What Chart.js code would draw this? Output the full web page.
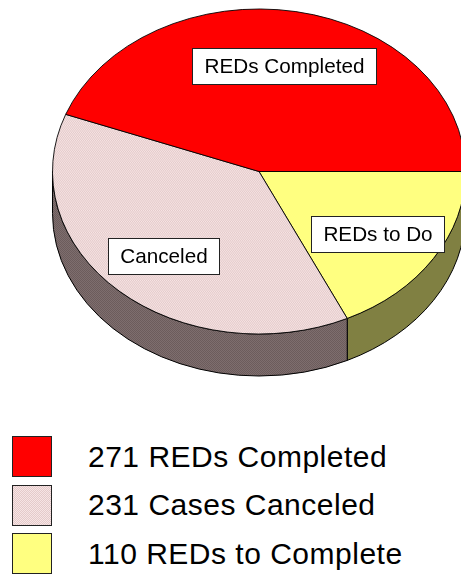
<!DOCTYPE html>
<html>
<head>
<meta charset="utf-8">
<script src="https://cdn.jsdelivr.net/npm/chart.js@4.4.0/dist/chart.umd.min.js"></script>
<style>
  body { margin: 0; width: 461px; height: 574px; overflow: hidden; background: #fff;
         font-family: Arial, "Liberation Sans", sans-serif; }
  #wrap { position: absolute; left: 0; top: 0; width: 518px; height: 414px; }
  #legend { position: absolute; left: 12px; top: 436px; }
  .row { display: flex; align-items: center; height: 41px; margin-bottom: 7.5px; }
  .sw { width: 38px; height: 39px; border: 1px solid #222; }
  .lbl { margin-left: 36px; font-size: 30px; letter-spacing: 0.5px; color: #000; white-space: nowrap; }
</style>
</head>
<body>
<div id="wrap"><canvas id="pie"></canvas></div>
<div id="legend"></div>
<script>
// values, legend order
let counts = [271, 231, 110];
let legendNames = ['REDs Completed', 'Cases Canceled', 'REDs to Complete'];
let sliceLabels = ['REDs Completed', 'Canceled', 'REDs to Do'];

// tilt of the fake 3d pie
const K = 0.787;      // vertical squash
const CY = 171.5;     // screen y of the pie centre
const DEPTH = 42;     // thickness of the side
const LABEL_R = 0.68;

function checker(c1, c2) {
    let c = document.createElement('canvas');
    c.width = 2; c.height = 2;
    let g = c.getContext('2d');
    g.fillStyle = c1; g.fillRect(0, 0, 2, 2);
    g.fillStyle = c2; g.fillRect(0, 0, 1, 1); g.fillRect(1, 1, 1, 1);
    return c;
}
let pinkTile = checker('#f6e4e4', '#e4caca');
let pinkSideTile = checker('#7e6e6e', '#6c5c5c');
let tmpCtx = document.createElement('canvas').getContext('2d');

let topColors = ['#ff0000', tmpCtx.createPattern(pinkTile, 'repeat'), '#ffff80'];
let sideColors = ['#800000', tmpCtx.createPattern(pinkSideTile, 'repeat'), '#808042'];

// legend (html)
let legend = document.getElementById('legend');
counts.forEach(function (v, i) {
    let row = document.createElement('div');
    row.className = 'row';
    let sw = document.createElement('div');
    sw.className = 'sw';
    if (i == 1) sw.style.backgroundImage = 'url(' + pinkTile.toDataURL() + ')';
    else sw.style.background = topColors[i];
    let t = document.createElement('div');
    t.className = 'lbl';
    t.textContent = v + ' ' + legendNames[i];
    row.appendChild(sw);
    row.appendChild(t);
    legend.appendChild(row);
});

// chart.js draws clockwise from 3 o'clock, the picture goes the other way
let order = [2, 1, 0];

const pie3d = {
    id: 'pie3d',
    beforeDatasetsDraw(chart) {
        let ctx = chart.ctx;
        let arcs = chart.getDatasetMeta(0).data;
        arcs.forEach(function (arc, j) {
            let i = order[j];
            let a1 = Math.max(arc.startAngle, 0);
            let a2 = Math.min(arc.endAngle, Math.PI);
            if (a2 <= a1) return;
            let rx = arc.outerRadius, ry = rx * K;
            ctx.beginPath();
            ctx.ellipse(arc.x, CY, rx, ry, 0, a1, a2);
            ctx.ellipse(arc.x, CY + DEPTH, rx, ry, 0, a2, a1, true);
            ctx.closePath();
            ctx.fillStyle = sideColors[i];
            ctx.fill();
            ctx.lineWidth = 1;
            ctx.strokeStyle = '#000';
            ctx.stroke();
        });
        let a = arcs[0];
        ctx.save();
        ctx.translate(a.x, CY);
        ctx.scale(1, K);
        ctx.translate(-a.x, -a.y);
    },
    afterDatasetsDraw(chart) {
        let ctx = chart.ctx;
        ctx.restore();
        let arcs = chart.getDatasetMeta(0).data;
        ctx.font = '20.7px Arial, "Liberation Sans", sans-serif';
        ctx.textAlign = 'center';
        ctx.textBaseline = 'middle';
        arcs.forEach(function (arc, j) {
            let i = order[j];
            let mid = (arc.startAngle + arc.endAngle) / 2;
            let r = arc.outerRadius * LABEL_R;
            let x = arc.x + r * Math.cos(mid);
            let y = CY + K * r * Math.sin(mid) + 3;
            let w = Math.round(ctx.measureText(sliceLabels[i]).width + 24), h = 36;
            let bx = Math.round(x - w / 2) + 0.5, by = Math.round(y - h / 2) + 0.5;
            ctx.fillStyle = '#fff';
            ctx.fillRect(bx, by, w, h);
            ctx.lineWidth = 1;
            ctx.strokeStyle = '#222';
            ctx.strokeRect(bx, by, w, h);
            ctx.fillStyle = '#000';
            ctx.fillText(sliceLabels[i], bx + w / 2, by + h / 2 + 1);
        });
    }
};

let ctx = document.getElementById('pie').getContext('2d');
let myChart = new Chart(ctx, {
    type: 'pie',
    data: {
        labels: order.map(i => legendNames[i]),
        datasets: [{
            data: order.map(i => counts[i]),
            backgroundColor: order.map(i => topColors[i]),
            borderColor: '#000',
            borderWidth: 1,
            hoverOffset: 0,
            clip: false
        }]
    },
    options: {
        responsive: true,
        maintainAspectRatio: false,
        animation: false,
        rotation: 90,
        layout: { padding: 0 },
        events: [],
        plugins: {
            legend: { display: false },
            tooltip: { enabled: false }
        }
    },
    plugins: [pie3d]
});
</script>
</body>
</html>
